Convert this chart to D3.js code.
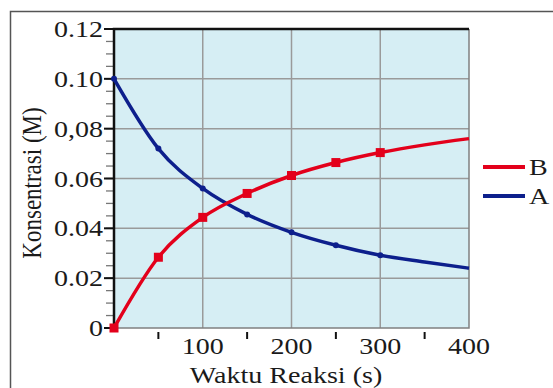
<!DOCTYPE html>
<html>
<head>
<meta charset="utf-8">
<script src="https://cdn.jsdelivr.net/npm/d3@7"></script>
<style>
  body { margin: 0; background: #fff; }
  svg { display: block; font-family: "Liberation Serif", "DejaVu Serif", serif; }
</style>
</head>
<body>
<svg id="chart" width="553" height="388"></svg>
<script>
// values
const times = [0, 50, 100, 150, 200, 250, 300, 350, 400];
const concA = [0.100, 0.072, 0.056, 0.0456, 0.0384, 0.0332, 0.0292, 0.0265, 0.024];
const concB = [0, 0.0284, 0.0444, 0.054, 0.0612, 0.0664, 0.0704, 0.0735, 0.076];
const markerTimes = [0, 50, 100, 150, 200, 250, 300];
const yTicks = [0, 0.02, 0.04, 0.06, 0.08, 0.10, 0.12];
const yTickLabels = ["0", "0.02", "0.04", "0.06", "0,08", "0.10", "0.12"];
const xTicks = [100, 200, 300, 400];
const xMinorTicks = [50, 150, 250, 350];
const legendNames = ["B", "A"];

const colorA = "#0d1f8c";
const colorB = "#e3001b";
const textColor = "#1a1a1a";
const stretch = 1.22; // the source picture is stretched sideways

const svg = d3.select("#chart");
const margin = { left: 114, top: 29, right: 469, bottom: 328 };

const x = d3.scaleLinear().domain([0, 400]).range([margin.left, margin.right]);
const y = d3.scaleLinear().domain([0, 0.12]).range([margin.bottom, margin.top]);

// outer frame (only top and left edges visible)
svg.append("path")
  .attr("d", "M10.5,388 L10.5,11.5 L553,11.5")
  .attr("fill", "none")
  .attr("stroke", "#555")
  .attr("stroke-width", 1.5);

// plot background
svg.append("rect")
  .attr("x", x(0)).attr("y", y(0.12))
  .attr("width", x(400) - x(0)).attr("height", y(0) - y(0.12))
  .attr("fill", "#d6eef4");

// grid
svg.append("g").selectAll("line")
  .data(yTicks.slice(1, -1))
  .enter().append("line")
  .attr("x1", x(0)).attr("x2", x(400))
  .attr("y1", d => y(d)).attr("y2", d => y(d))
  .attr("stroke", "#9a9a9a").attr("stroke-width", 1.5);

svg.append("g").selectAll("line")
  .data(xTicks.slice(0, -1))
  .enter().append("line")
  .attr("x1", d => x(d)).attr("x2", d => x(d))
  .attr("y1", y(0)).attr("y2", y(0.12))
  .attr("stroke", "#9a9a9a").attr("stroke-width", 1.5);

// right and bottom border (gray)
svg.append("path")
  .attr("d", `M${x(400)},${y(0.12)} L${x(400)},${y(0)} L${x(0)},${y(0)}`)
  .attr("fill", "none").attr("stroke", "#808080").attr("stroke-width", 1.5);

// y axis with minor ticks
const yMinor = d3.range(0, 0.1201, 0.005);
svg.append("g").selectAll("line")
  .data(yMinor)
  .enter().append("line")
  .attr("x1", x(0) - 8).attr("x2", x(0))
  .attr("y1", d => y(d)).attr("y2", d => y(d))
  .attr("stroke", "#777").attr("stroke-width", 1.3);

svg.append("g").selectAll("line")
  .data(yTicks)
  .enter().append("line")
  .attr("x1", x(0) - 10).attr("x2", x(0))
  .attr("y1", d => y(d)).attr("y2", d => y(d))
  .attr("stroke", "#111").attr("stroke-width", 2);

svg.append("g").selectAll("text")
  .data(yTicks)
  .enter().append("text")
  .attr("transform", d => `translate(${x(0) - 11},${y(d)}) scale(${stretch},1)`)
  .attr("dy", "0.35em")
  .attr("text-anchor", "end")
  .style("font-size", "23px")
  .attr("fill", textColor)
  .text((d, i) => yTickLabels[i]);

// black top and left border
svg.append("path")
  .attr("d", `M${x(0)},${y(0)} L${x(0)},${y(0.12)} L${x(400)},${y(0.12)}`)
  .attr("fill", "none").attr("stroke", "#111").attr("stroke-width", 2.5);

// x axis ticks
svg.append("g").selectAll("line")
  .data(xMinorTicks)
  .enter().append("line")
  .attr("x1", d => x(d)).attr("x2", d => x(d))
  .attr("y1", y(0) + 4).attr("y2", y(0) + 11)
  .attr("stroke", "#111").attr("stroke-width", 2);

svg.append("g").selectAll("text")
  .data(xTicks)
  .enter().append("text")
  .attr("transform", d => `translate(${x(d)},${y(0) + 26}) scale(${stretch},1)`)
  .attr("text-anchor", "middle")
  .style("font-size", "23px")
  .attr("fill", textColor)
  .text(d => d);

// axis titles
svg.append("text")
  .attr("transform", `translate(286,383) scale(${stretch},1)`)
  .attr("text-anchor", "middle")
  .style("font-size", "23px")
  .attr("fill", textColor)
  .text("Waktu Reaksi (s)");

svg.append("text")
  .attr("transform", `translate(41,183) rotate(-90) scale(1,${stretch})`)
  .attr("text-anchor", "middle")
  .style("font-size", "23px")
  .attr("fill", textColor)
  .text("Konsentrasi (M)");

// series lines
const line = d3.line()
  .x(d => x(d[0]))
  .y(d => y(d[1]))
  .curve(d3.curveMonotoneX);

const seriesA = times.map((t, i) => [t, concA[i]]);
const seriesB = times.map((t, i) => [t, concB[i]]);

svg.append("path")
  .datum(seriesA)
  .attr("d", line)
  .attr("fill", "none").attr("stroke", colorA).attr("stroke-width", 3.5);

svg.append("path")
  .datum(seriesB)
  .attr("d", line)
  .attr("fill", "none").attr("stroke", colorB).attr("stroke-width", 3.5);

// markers
svg.append("g").selectAll("circle")
  .data(seriesA.filter(d => markerTimes.includes(d[0])))
  .enter().append("circle")
  .attr("cx", d => x(d[0])).attr("cy", d => y(d[1]))
  .attr("r", 3)
  .attr("fill", colorA);

svg.append("g").selectAll("rect")
  .data(seriesB.filter(d => markerTimes.includes(d[0])))
  .enter().append("rect")
  .attr("x", d => x(d[0]) - 4.5).attr("y", d => y(d[1]) - 4.5)
  .attr("width", 9).attr("height", 9)
  .attr("fill", colorB);

// legend
const legend = svg.append("g").selectAll("g")
  .data(legendNames)
  .enter().append("g")
  .attr("transform", (d, i) => `translate(483,${167 + i * 29})`);

legend.append("line")
  .attr("x1", 0).attr("x2", 42)
  .attr("stroke", d => d === "A" ? colorA : colorB)
  .attr("stroke-width", 4);

legend.append("text")
  .attr("transform", `translate(46,0) scale(${stretch},1)`)
  .attr("dy", "0.35em")
  .style("font-size", "23px")
  .attr("fill", textColor)
  .text(d => d);
</script>
</body>
</html>
